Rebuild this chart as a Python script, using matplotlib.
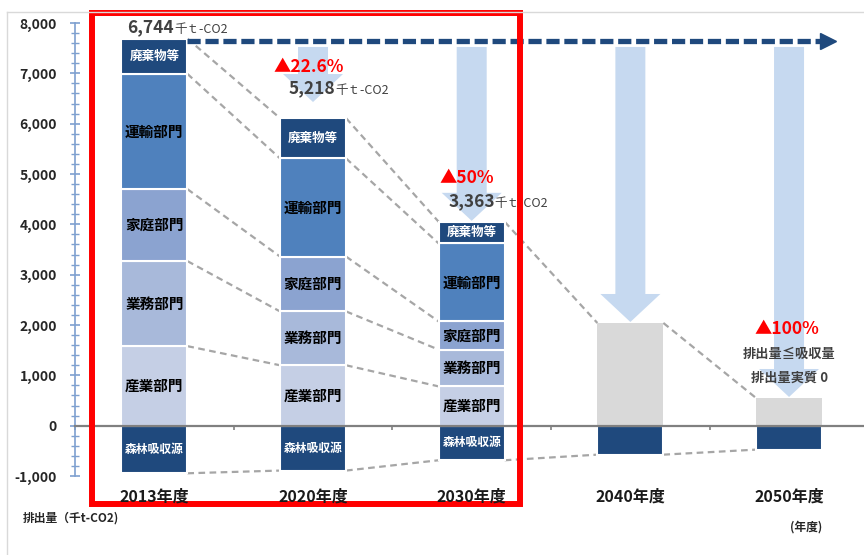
import numpy as np
import matplotlib
matplotlib.use("Agg")
import matplotlib.pyplot as plt
from matplotlib.patches import Polygon, Rectangle
from matplotlib.lines import Line2D
from matplotlib.ticker import MultipleLocator, FuncFormatter

plt.rcParams['font.family'] = ['Noto Sans CJK JP', 'DejaVu Sans']

# ---- data (千t-CO2) ----
years = ["2013年度", "2020年度", "2030年度", "2040年度", "2050年度"]
sectors = ["産業部門", "業務部門", "家庭部門", "運輸部門", "廃棄物等"]
sector_values = [
    [1580, 1200, 780],   # 産業部門
    [1690, 1070, 730],   # 業務部門
    [1430, 1090, 560],   # 家庭部門
    [2290, 1950, 1550],  # 運輸部門
    [700, 800, 430],     # 廃棄物等
]
future_emission = [2040, 550]           # 2040, 2050 (gross)
forest = [-946, -892, -687, -576, -476]  # 森林吸収源
net_labels = ["6,744", "5,218", "3,363"]
reductions = ["▲22.6%", "▲50%", "▲100%"]

sector_colors = ['#C5CFE5', '#A8B9DA', '#8BA3D0', '#4F81BD', '#1F497D']
navy = '#1F497D'
arrow_blue = '#C6D9F0'
dark_txt = '#404040'

fig = plt.figure(figsize=(8.64, 5.55), dpi=100)
ax = fig.add_axes([75/864, 79/555, (864-75)/864, (476-23)/555])
ax.set_ylim(-1000, 8000)
ax.set_xlim(-0.4976, 4.4724)

w = 0.416
vals = np.array(sector_values)
tops = np.cumsum(vals, axis=0)
gross = list(tops[-1]) + future_emission

# light blue down arrows
shaft_top = 7524
head_len = 556
for i in range(1, 5):
    tip = gross[i] + (320 if i == 1 else 20)
    hs, hh = 0.0945, 0.189
    pts = [(i - hs, shaft_top), (i + hs, shaft_top), (i + hs, tip + head_len),
           (i + hh, tip + head_len), (i, tip), (i - hh, tip + head_len),
           (i - hs, tip + head_len)]
    ax.add_patch(Polygon(pts, closed=True, color=arrow_blue, lw=0, zorder=1))

# stacked bars 2013-2030
for k, name in enumerate(sectors):
    bottoms = tops[k] - vals[k]
    ax.bar(range(3), vals[k], bottom=bottoms, width=w, color=sector_colors[k],
           edgecolor='white', linewidth=1.5, zorder=2)
    for i in range(3):
        if k == 4:
            ax.text(i, bottoms[i] + vals[k][i] / 2, name, ha='center', va='center',
                    color='white', fontsize=9, fontweight='bold', zorder=5)
        else:
            ax.text(i, bottoms[i] + vals[k][i] / 2, name, ha='center', va='center',
                    color='black', fontsize=10.5, fontweight='bold', zorder=5)

# future bars
ax.bar([3, 4], future_emission, width=w, color='#D9D9D9', zorder=2)
# forest absorption
ax.bar(range(5), forest, width=w, color=navy, edgecolor='white', linewidth=1.5, zorder=2)
for i in range(3):
    ax.text(i, forest[i] / 2, "森林吸収源", ha='center', va='center', color='white',
            fontsize=8.5, fontweight='bold', zorder=5)

# gray dashed connectors
cstyle = dict(color='#A6A6A6', lw=1.6, ls=(0, (3, 2)), zorder=1.5)
for i in range(2):
    for k in range(5):
        ax.plot([i + w/2, i + 1 - w/2], [tops[k][i], tops[k][i + 1]], **cstyle)
for i in range(2, 4):
    ax.plot([i + w/2, i + 1 - w/2], [gross[i], gross[i + 1]], **cstyle)
for i in range(4):
    ax.plot([i + w/2, i + 1 - w/2], [forest[i], forest[i + 1]], **cstyle)

# navy dashed arrow
ax.plot([w/2, 4.20], [7640, 7640], color=navy, lw=3.8, ls=(0, (2.5, 0.9)),
        solid_capstyle='butt', dash_capstyle='butt', zorder=3)
ax.plot([4.246], [7640], marker='>', markersize=11, color=navy, zorder=3)

# value labels
def value_label(x, y, num):
    t = ax.text(x, y, num, color=dark_txt, fontsize=12.5, fontweight='bold',
                va='baseline', ha='left', zorder=6)
    ax.annotate("千ｔ-CO2", xy=(1, 0), xycoords=t, va='bottom', ha='left',
                color=dark_txt, fontsize=9, zorder=6)

value_label(-0.170, 7821, net_labels[0])
value_label(0.844, 6610, net_labels[1])
value_label(1.852, 4367, net_labels[2])

red_pos = [(0.750, 7027), (1.80, 4824), (3.78, 1826)]
for (x, y), s in zip(red_pos, reductions):
    ax.text(x, y, s, color='#FF0000', fontsize=12.5, fontweight='bold',
            va='baseline', ha='left', zorder=6)

ax.text(4.003, 1429, "排出量≦吸収量", ha='center', va='center', color=dark_txt,
        fontsize=9.5, fontweight='bold', zorder=6)
ax.text(4.006, 953, "排出量実質 0", ha='center', va='center', color=dark_txt,
        fontsize=9.5, fontweight='bold', zorder=6)

for i, y in enumerate(years):
    ax.text(i, -1400, y, ha='center', va='center', fontsize=11.5,
            fontweight='bold', color='#1A1A1A', clip_on=False, zorder=8)
ax.text(-0.8315, -1826, "排出量（千t-CO2)", ha='left', va='center', fontsize=8.5,
        fontweight='bold', color='#262626', clip_on=False)
ax.text(4.107, -2005, "(年度)", ha='center', va='center', fontsize=8.5,
        fontweight='bold', color='#262626', clip_on=False)

# red frame around 2013-2030
ax.add_patch(Rectangle((-0.3906, -1558), 2.3055 + 0.3906, 8189 + 1558, fill=False,
                       edgecolor='#FF0000', lw=4.3, clip_on=False, zorder=7))

# axes styling
for s in ['top', 'right']:
    ax.spines[s].set_visible(False)
ax.spines['left'].set_color('#7EA0CF')
ax.spines['left'].set_linewidth(1.2)
ax.spines['bottom'].set_position(('data', 0))
ax.spines['bottom'].set_color('#808080')
ax.spines['bottom'].set_linewidth(1.6)
ax.spines['bottom'].set_zorder(4)

ax.yaxis.set_major_locator(MultipleLocator(1000))
ax.yaxis.set_minor_locator(MultipleLocator(200))
ax.yaxis.set_major_formatter(FuncFormatter(lambda v, p: f"{v:,.0f}"))
ax.tick_params(axis='y', which='major', direction='inout', length=7.2, width=1.2,
               color='#7EA0CF', pad=9.4, labelsize=10, labelcolor='#262626')
ax.tick_params(axis='y', which='minor', direction='inout', length=5.8, width=1.0,
               color='#7EA0CF')
for lab in ax.get_yticklabels():
    lab.set_fontweight('bold')
ax.set_xticks([-0.5, 0.5, 1.5, 2.5, 3.5])
ax.set_xticklabels([])
ax.tick_params(axis='x', direction='out', length=3, width=1.2, color='#808080')
ax.patch.set_alpha(0)

# outer light frame
fig.add_artist(Line2D([7/864, 1], [1 - 12/555] * 2, transform=fig.transFigure,
                      color='#D9D9D9', lw=1))
fig.add_artist(Line2D([7/864] * 2, [0, 1 - 12/555], transform=fig.transFigure,
                      color='#D9D9D9', lw=1))

fig.savefig("out.png", dpi=100)
